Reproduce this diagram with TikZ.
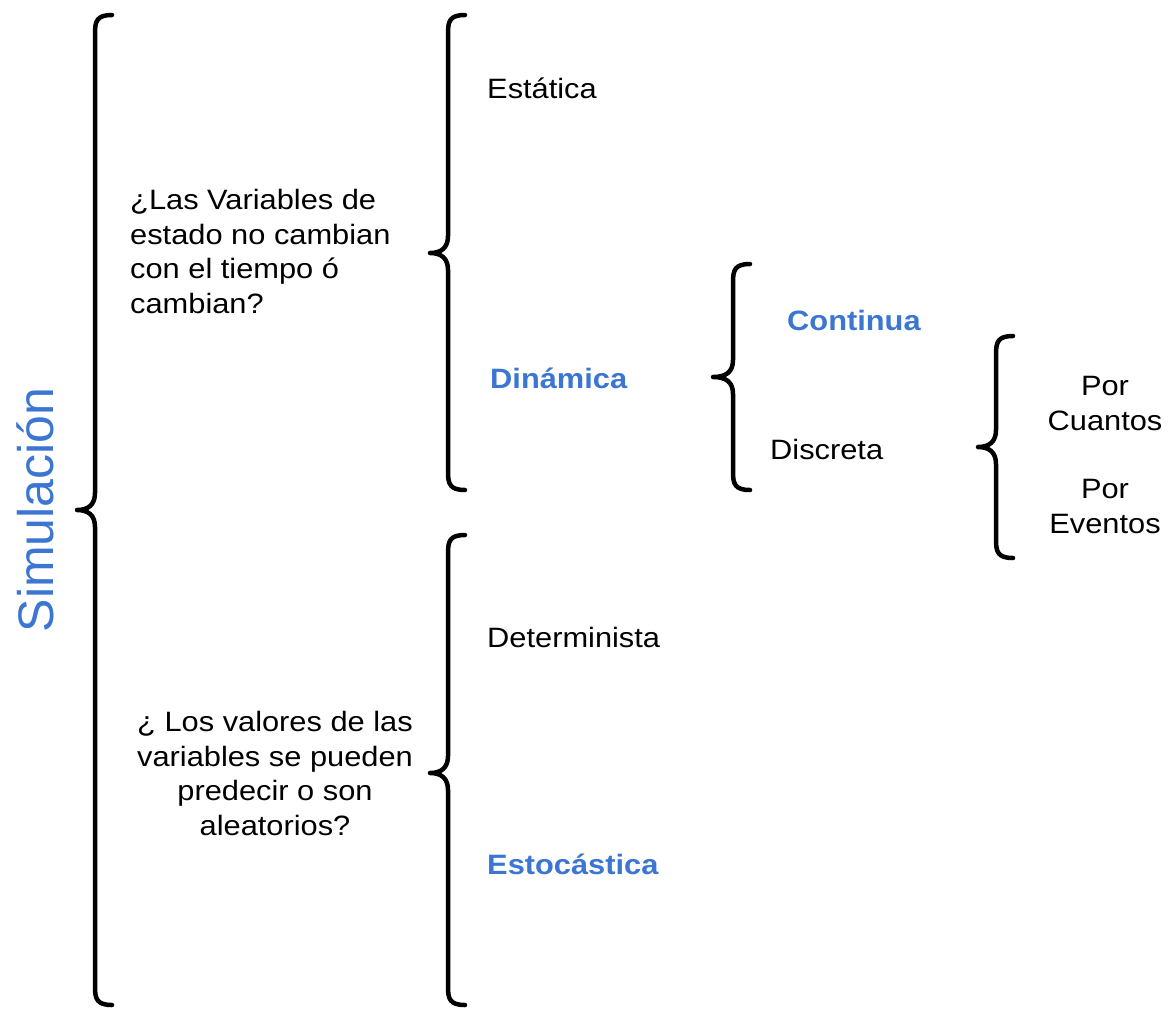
\documentclass[tikz,border=0pt]{standalone}
\usepackage{fontspec}
\setmainfont{Liberation Sans}[FakeStretch=1.1]
\newfontfamily\titlefont{Liberation Sans}
\definecolor{simblue}{RGB}{58,118,210}
% curly brace: #1 spine x, #2 top y, #3 tip y, #4 bottom y, #5 tip x
\newcommand{\bracedraw}[5]{%
  \draw[bracestyle]
    ({#1+17},#2) .. controls ({#1+2},#2) and (#1,{#2+6}) .. (#1,{#2+18})
    -- (#1,{#3-17}) .. controls (#1,{#3-5}) and ({#1-7},#3) .. (#5,#3)
    .. controls ({#1-7},#3) and (#1,{#3+5}) .. (#1,{#3+17})
    -- (#1,{#4-18}) .. controls (#1,{#4-6}) and ({#1+2},#4) .. ({#1+17},#4);}
\begin{document}
\begin{tikzpicture}[x=1pt,y=-1pt,
  bracestyle/.style={line width=4.5pt,line cap=round,line join=round},
  txt/.style={inner sep=0pt,font=\fontsize{28}{34.5}\selectfont},
  lefttxt/.style={txt,anchor=base west},
  hot/.style={txt,anchor=base west,text=simblue,font=\fontsize{28}{34}\selectfont\bfseries},
  block/.style={txt,anchor=base}]
\useasboundingbox[fill=white] (0,0) rectangle (1175,1010);

% braces
\bracedraw{95}{15}{510}{1005}{77}
\bracedraw{448}{15}{253}{490}{430}
\bracedraw{448}{535}{773}{1005}{430}
\bracedraw{733}{264}{377}{490}{713}
\bracedraw{996}{336}{447}{558}{978}

% root label
\node[inner sep=0pt,rotate=90,text=simblue,font=\titlefont\fontsize{50}{60}\selectfont] (sim) at (35,510) {Simulación};

% questions (anchored on the baseline of their last line)
\node[block,anchor=base west,align=left] (q1) at (130,313)
  {¿Las Variables de\\estado no cambian\\con el tiempo ó\\cambian?};
\node[block,align=center] (q2) at (275,835)
  {¿ Los valores de las\\variables se pueden\\predecir o son\\aleatorios?};

% options
\node[lefttxt] (est) at (487,98) {Estática};
\node[hot] (din) at (490,388) {Dinámica};
\node[lefttxt] (det) at (487,647) {Determinista};
\node[hot] (sto) at (487,874) {Estocástica};
\node[hot] (con) at (787,330) {Continua};
\node[lefttxt] (dis) at (770,459) {Discreta};
\node[block,align=center] (cua) at (1105,430) {Por\\Cuantos};
\node[block,align=center] (eve) at (1105,533) {Por\\Eventos};
\end{tikzpicture}
\end{document}
